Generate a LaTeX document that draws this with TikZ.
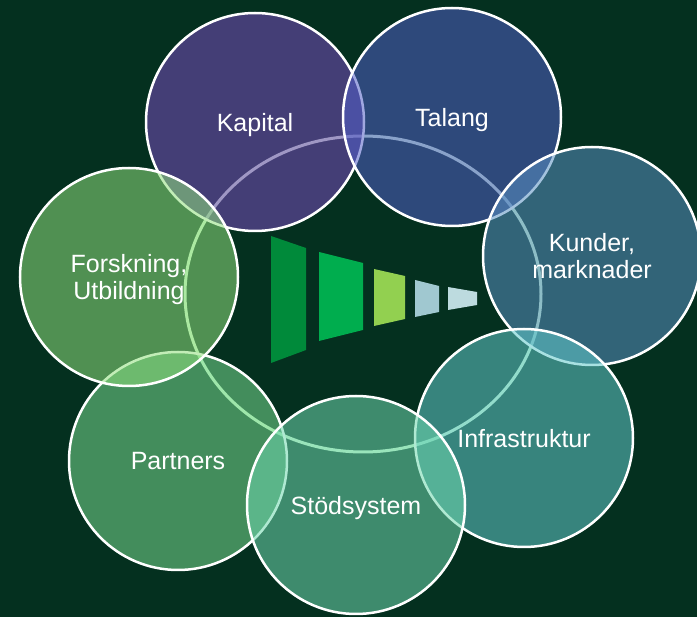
\documentclass[tikz,border=0pt]{standalone}
\usepackage{fontspec}
\setmainfont{Liberation Sans}
\usepackage{tikz}
\usetikzlibrary{positioning}
\definecolor{bgdark}{RGB}{4,48,31}
\definecolor{ringc}{RGB}{205,245,205}
\definecolor{kapitalc}{RGB}{122,75,190}
\definecolor{talangc}{RGB}{82,95,200}
\definecolor{kunderc}{RGB}{89,144,194}
\definecolor{infrac}{RGB}{98,201,203}
\definecolor{stodc}{RGB}{111,215,174}
\definecolor{partnerc}{RGB}{120,219,143}
\definecolor{forskc}{RGB}{144,224,125}
\definecolor{funnela}{RGB}{0,138,58}
\definecolor{funnelb}{RGB}{0,173,78}
\definecolor{funnelc}{RGB}{146,208,80}
\definecolor{funneld}{RGB}{160,200,208}
\definecolor{funnele}{RGB}{189,219,223}

\begin{document}
\begin{tikzpicture}[x=1pt,y=-1pt,
    bubble/.style={circle, draw=white, line width=2.5pt, minimum size=218pt,
      inner sep=0pt, fill opacity=0.55, text opacity=1, text=white,
      text depth=0pt, align=center, font=\fontsize{25}{27}\selectfont}]
      \fill[bgdark] (0,0) rectangle (697,617);
      \useasboundingbox (0,0) rectangle (697,617);
      \draw[ringc, line width=3pt] (363,294) ellipse [x radius=178pt, y radius=158pt];
      \node[bubble, fill=kapitalc] (Kapital) at (255,122) {Kapital};
      \node[bubble, fill=talangc, on grid, above right=5pt and 197pt of Kapital] (Talang) {Talang};
      \node[bubble, fill=kunderc, on grid, below right=139pt and 140pt of Talang] (Kunder) {Kunder,\\marknader};
      \node[bubble, fill=infrac, on grid, below left=182pt and 68pt of Kunder] (Infra) {Infrastruktur};
      \node[bubble, fill=partnerc, on grid, below left=23pt and 346pt of Infra] (Partners) {Partners};
      \node[bubble, fill=stodc, on grid, below left=67pt and 168pt of Infra] (Stod) {Stödsystem};
      \node[bubble, fill=forskc, on grid, above left=184pt and 49pt of Partners] (Forsk) {Forskning,\\Utbildning};
      \fill[funnela] (271,236) -- (306,248) -- (306,350) -- (271,363) -- cycle;
      \fill[funnelb] (319,252) -- (363,263) -- (363,330) -- (319,341) -- cycle;
      \fill[funnelc] (374,269) -- (405,276) -- (405,319) -- (374,326) -- cycle;
      \fill[funneld] (415,280) -- (439,286) -- (439,312) -- (415,317) -- cycle;
      \fill[funnele] (448,287) -- (477,292) -- (477,305) -- (448,310) -- cycle;
    \end{tikzpicture}
\end{document}
